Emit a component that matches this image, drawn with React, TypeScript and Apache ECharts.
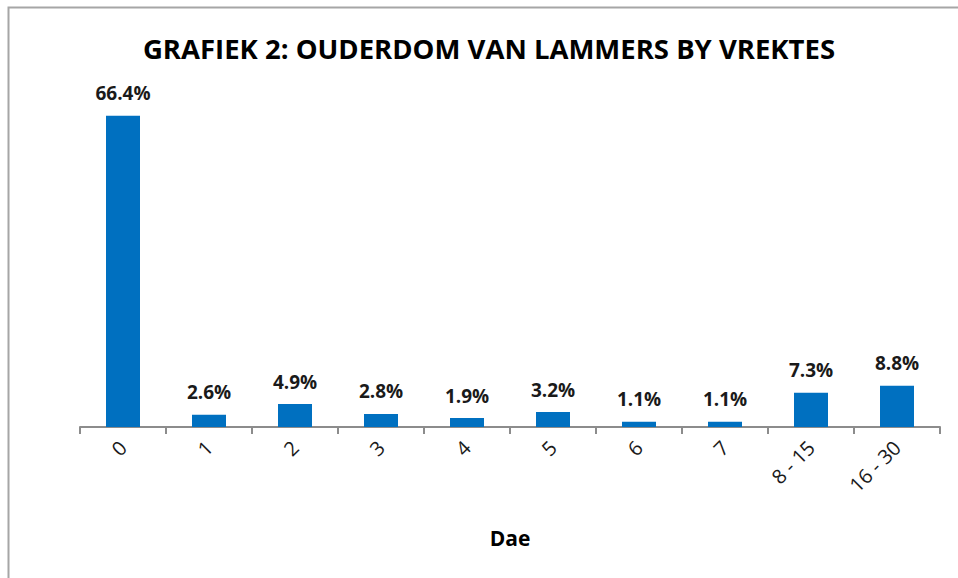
import React, { useEffect, useRef } from "react";
import * as echarts from "echarts";

const categories = ["0", "1", "2", "3", "4", "5", "6", "7", "8 - 15", "16 - 30"];
const percentages = [66.4, 2.6, 4.9, 2.8, 1.9, 3.2, 1.1, 1.1, 7.3, 8.8];
const titleText = "GRAFIEK 2: OUDERDOM VAN LAMMERS BY VREKTES";
const axisName = "Dae";

export default function App() {
  const ref = useRef<HTMLDivElement>(null);
  useEffect(() => {
    if (!ref.current) return;
    const chart = echarts.init(ref.current, null, { renderer: "svg" });
    chart.setOption({
      animation: false,
      backgroundColor: "#ffffff",
      title: {
        text: titleText,
        left: 484,
        top: 29,
        textAlign: "center",
        textStyle: {
          fontFamily: "Open Sans",
          fontWeight: "bold",
          fontSize: 27.5,
          color: "#000000",
        },
      },
      graphic: [
        {
          type: "rect",
          shape: { x: 8.5, y: 7.5, width: 1000, height: 700 },
          style: { fill: "none", stroke: "#a6a6a6", lineWidth: 2 },
          silent: true,
        },
      ],
      grid: { left: 80, right: 18, top: 99, bottom: 151 },
      xAxis: {
        type: "category",
        data: categories,
        axisLine: { lineStyle: { color: "#8c8c8c", width: 2 } },
        axisTick: { show: true, length: 7, lineStyle: { color: "#8c8c8c", width: 2 } },
        axisLabel: {
          rotate: 45,
          fontFamily: "Open Sans",
          fontSize: 20,
          color: "#1a1a1a",
          margin: 17,
        },
        name: axisName,
        nameLocation: "middle",
        nameGap: 100,
        nameTextStyle: {
          fontFamily: "Open Sans",
          fontWeight: "bold",
          fontSize: 21,
          color: "#000000",
        },
      },
      yAxis: {
        type: "value",
        min: 0,
        max: 70,
        show: false,
        splitLine: { show: false },
      },
      series: [
        {
          type: "bar",
          data: percentages,
          barWidth: 34,
          itemStyle: { color: "#0070C0" },
          label: {
            show: true,
            position: "top",
            distance: 13,
            formatter: (p: any) => `${Number(p.value).toFixed(1)}%`,
            fontFamily: "Open Sans",
            fontWeight: "bold",
            fontSize: 19,
            color: "#1a1a1a",
          },
        },
      ],
    });
    return () => chart.dispose();
  }, []);
  return (
    <div
      ref={ref}
      style={{ position: "fixed", left: 0, top: 0, width: 958, height: 578 }}
    />
  );
}
